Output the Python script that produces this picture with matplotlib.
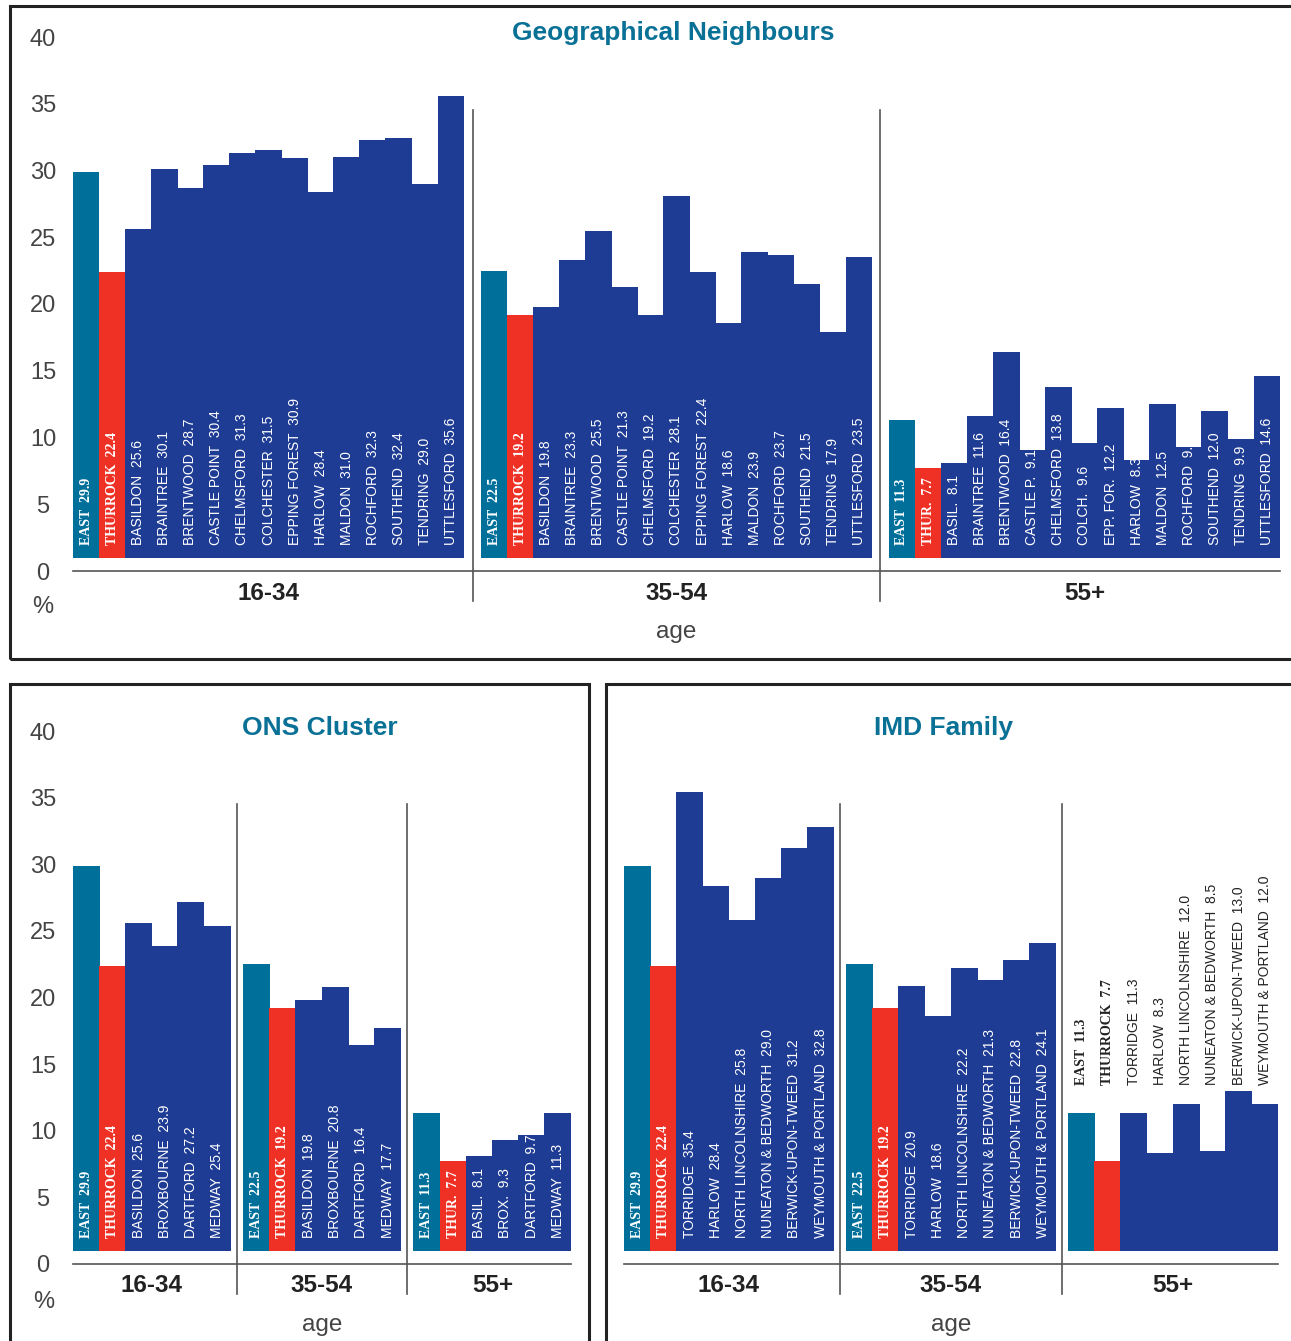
import matplotlib
matplotlib.use('Agg')
import matplotlib.pyplot as plt
from matplotlib.patches import Rectangle

W, H = 1291, 1341

groups = ['16-34', '35-54', '55+']

# Geographical Neighbours
geo_names = ['EAST', 'THURROCK', 'BASILDON', 'BRAINTREE', 'BRENTWOOD', 'CASTLE POINT',
             'CHELMSFORD', 'COLCHESTER', 'EPPING FOREST', 'HARLOW', 'MALDON',
             'ROCHFORD', 'SOUTHEND', 'TENDRING', 'UTTLESFORD']
geo_names_55 = ['EAST', 'THUR.', 'BASIL.', 'BRAINTREE', 'BRENTWOOD', 'CASTLE P.',
                'CHELMSFORD', 'COLCH.', 'EPP. FOR.', 'HARLOW', 'MALDON',
                'ROCHFORD', 'SOUTHEND', 'TENDRING', 'UTTLESFORD']
geo_1634 = [29.9, 22.4, 25.6, 30.1, 28.7, 30.4, 31.3, 31.5, 30.9, 28.4, 31.0, 32.3, 32.4, 29.0, 35.6]
geo_3554 = [22.5, 19.2, 19.8, 23.3, 25.5, 21.3, 19.2, 28.1, 22.4, 18.6, 23.9, 23.7, 21.5, 17.9, 23.5]
geo_55 = [11.3, 7.7, 8.1, 11.6, 16.4, 9.1, 13.8, 9.6, 12.2, 8.3, 12.5, 9.3, 12.0, 9.9, 14.6]

# ONS Cluster
ons_names = ['EAST', 'THURROCK', 'BASILDON', 'BROXBOURNE', 'DARTFORD', 'MEDWAY']
ons_names_55 = ['EAST', 'THUR.', 'BASIL.', 'BROX.', 'DARTFORD', 'MEDWAY']
ons_1634 = [29.9, 22.4, 25.6, 23.9, 27.2, 25.4]
ons_3554 = [22.5, 19.2, 19.8, 20.8, 16.4, 17.7]
ons_55 = [11.3, 7.7, 8.1, 9.3, 9.7, 11.3]

# IMD Family
imd_names = ['EAST', 'THURROCK', 'TORRIDGE', 'HARLOW', 'NORTH LINCOLNSHIRE',
             'NUNEATON & BEDWORTH', 'BERWICK-UPON-TWEED', 'WEYMOUTH & PORTLAND']
imd_1634 = [29.9, 22.4, 35.4, 28.4, 25.8, 29.0, 31.2, 32.8]
imd_3554 = [22.5, 19.2, 20.9, 18.6, 22.2, 21.3, 22.8, 24.1]
imd_55 = [11.3, 7.7, 11.3, 8.3, 12.0, 8.5, 13.0, 12.0]

TEAL = '#00709a'
RED = '#ee3124'
BLUE = '#1e3c94'
TITLE = '#0a7196'
GREY = '#444444'
SANS = ['Liberation Sans', 'DejaVu Sans']
SERIF = ['Liberation Serif', 'DejaVu Serif']
BASE = 0.95

fig = plt.figure(figsize=(W / 100, H / 100), dpi=100)


def px_axes(left, right, y0, y40):
    return fig.add_axes([left / W, 1 - y0 / H, (right - left) / W, (y0 - y40) / H])


def frame(x1, y1, x2, y2):
    fig.patches.append(Rectangle((x1 / W, 1 - y2 / H), (x2 - x1) / W, (y2 - y1) / H,
                                 transform=fig.transFigure, fill=False,
                                 edgecolor='#222222', linewidth=2.2))


def panel(ax, names, values, gap, ticks=True, above=None):
    x = 0
    for gi, (nms, vals) in enumerate(zip(names, values)):
        xs = [x + i + 0.5 for i in range(len(vals))]
        colors = [TEAL, RED] + [BLUE] * (len(vals) - 2)
        ax.bar(xs, [v - BASE for v in vals], bottom=BASE, width=1.03,
               color=colors, linewidth=0)
        for i, (n, v) in enumerate(zip(nms, vals)):
            outside = above is not None and gi == above
            y = 13.45 if outside else 1.95
            col = '#222222' if outside else 'white'
            if i < 2:
                ax.text(xs[i], y, f'{n}  {v:.1f}', rotation=90, ha='center', va='bottom',
                        color=col, fontsize=10, fontweight='bold', family=SERIF)
            else:
                ax.text(xs[i], y, f'{n}  {v:.1f}', rotation=90, ha='center', va='bottom',
                        color=col, fontsize=10, family=SANS)
        ax.text(x + len(vals) / 2, -1.65, groups[gi], ha='center', va='center',
                fontsize=17.5, fontweight='bold', color='#222222', family=SANS)
        x += len(vals)
        if gi < len(values) - 1:
            ax.plot([x + gap / 2] * 2, [-2.25, 34.5], color='#555555', lw=1.2, clip_on=False)
            x += gap
    ax.set_xlim(0, x)
    ax.set_ylim(0, 40)
    ax.axhline(0, color='#555555', lw=1.2, clip_on=False)
    ax.text(x / 2, -4.6, 'age', ha='center', va='center', fontsize=17.5,
            color=GREY, family=SANS)
    for s in ax.spines.values():
        s.set_visible(False)
    ax.set_xticks([])
    if ticks:
        ax.set_yticks(range(0, 41, 5))
        ax.tick_params(axis='y', length=0, pad=21.6, labelsize=17, labelcolor=GREY)
        for lab in ax.get_yticklabels():
            lab.set_ha('center')
            lab.set_family(SANS)
    else:
        ax.set_yticks([])
    ax.patch.set_alpha(0)


frame(10, 6, 1300, 659)
frame(10, 684, 589, 1350)
frame(606, 684, 1300, 1350)

ax1 = px_axes(73, 1280, 571, 37)
panel(ax1, [geo_names, geo_names, geo_names_55], [geo_1634, geo_3554, geo_55], gap=0.65)
fig.text(673 / W, 1 - 33 / H, 'Geographical Neighbours', ha='center', va='center',
         fontsize=19, fontweight='bold', color=TITLE, family=SANS)
fig.text(43 / W, 1 - 607 / H, '%', ha='center', va='center', fontsize=17, color=GREY, family=SANS)

ax2 = px_axes(73, 571, 1264, 731)
panel(ax2, [ons_names, ons_names, ons_names_55], [ons_1634, ons_3554, ons_55], gap=0.5)
fig.text(320 / W, 1 - 728 / H, 'ONS Cluster', ha='center', va='center',
         fontsize=19, fontweight='bold', color=TITLE, family=SANS)
fig.text(44 / W, 1 - 1302 / H, '%', ha='center', va='center', fontsize=17, color=GREY, family=SANS)

ax3 = px_axes(624, 1278, 1264, 731)
panel(ax3, [imd_names, imd_names, imd_names], [imd_1634, imd_3554, imd_55], gap=0.48,
      ticks=False, above=2)
fig.text(944 / W, 1 - 728 / H, 'IMD Family', ha='center', va='center',
         fontsize=19, fontweight='bold', color=TITLE, family=SANS)

fig.savefig('out.png', dpi=100)
